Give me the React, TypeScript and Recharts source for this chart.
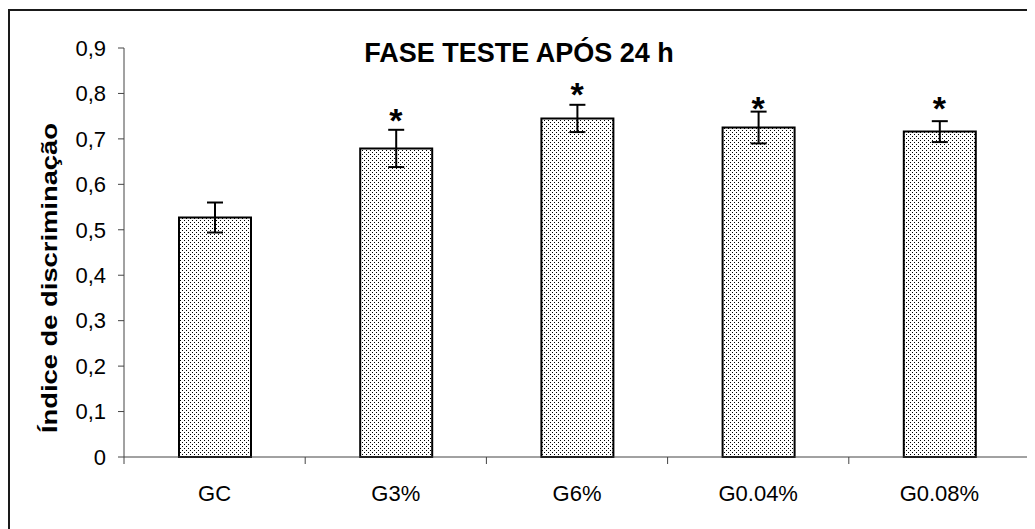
import React from "react";
import { ComposedChart, Bar, XAxis, YAxis, ErrorBar, Scatter } from "recharts";

const categories = ["GC", "G3%", "G6%", "G0.04%", "G0.08%"];
const means = [0.527, 0.679, 0.745, 0.725, 0.716];
const errors = [0.033, 0.041, 0.03, 0.035, 0.023];
const starLevels: (number | null)[] = [null, 0.757, 0.815, 0.783, 0.783];
const yTicks = [0, 0.1, 0.2, 0.3, 0.4, 0.5, 0.6, 0.7, 0.8, 0.9];
const titleText = "FASE TESTE APÓS 24 h";
const yLabelText = "Índice de discriminação";

const data = categories.map((name, i) => ({
  name,
  mean: means[i],
  err: errors[i],
  star: starLevels[i],
}));

const FONT = "'Liberation Sans', Arial, sans-serif";
const TICK_SIZE = 6;
const X_TICK_MARGIN = 22;

const XTick = (props: any) => {
  const { x, y, payload, index, visibleTicksCount, width } = props;
  const half =
    payload && typeof payload.offset === "number" && payload.offset > 0
      ? payload.offset
      : width / visibleTicksCount / 2;
  const axisY = y - TICK_SIZE - X_TICK_MARGIN;
  return (
    <g>
      <line x1={x - half} x2={x - half} y1={axisY} y2={axisY + 7} stroke="#444" strokeWidth={1} />
      {index === visibleTicksCount - 1 && (
        <line x1={x + half} x2={x + half} y1={axisY} y2={axisY + 7} stroke="#444" strokeWidth={1} />
      )}
      <text x={x} y={y} dy="0.71em" textAnchor="middle" fontSize={22} fontFamily={FONT} fill="#000">
        {payload.value}
      </text>
    </g>
  );
};

const StarShape = (props: any) => {
  const { cx, cy, payload } = props;
  if (payload == null || payload.star == null || !isFinite(cx) || !isFinite(cy)) return null;
  return (
    <text x={cx} y={cy + 19} textAnchor="middle" fontSize={34} fontWeight="bold" fontFamily={FONT} fill="#000">
      *
    </text>
  );
};

export default function App() {
  return (
    <div style={{ position: "relative", width: 1027, height: 521, overflow: "hidden", background: "#fff" }}>
      <div
        style={{
          position: "absolute",
          top: 1,
          left: 0,
          width: 1100,
          height: 600,
          borderTop: "2px solid #1a1a1a",
          borderLeft: "2px solid #1a1a1a",
          boxSizing: "border-box",
        }}
      />
      <div style={{ position: "absolute", top: 0, left: 0 }}>
        <ComposedChart
          width={1027}
          height={521}
          data={data}
          margin={{ top: 40, right: 5, bottom: 12, left: 0 }}
        >
          <defs>
            <pattern id="dots" patternUnits="userSpaceOnUse" width={4} height={4}>
              <rect x={0} y={0} width={4} height={4} fill="#fff" />
              <rect x={0} y={0} width={1} height={1} fill="#000" />
              <rect x={2} y={2} width={1} height={1} fill="#000" />
            </pattern>
          </defs>
          <XAxis
            dataKey="name"
            height={60}
            tickLine={false}
            tickSize={TICK_SIZE}
            tickMargin={X_TICK_MARGIN}
            axisLine={{ stroke: "#444", strokeWidth: 1 }}
            tick={<XTick />}
            interval={0}
          />
          <YAxis
            width={116}
            domain={[0, 0.9]}
            ticks={yTicks}
            interval={0}
            tickSize={TICK_SIZE}
            tickMargin={12}
            axisLine={{ stroke: "#444", strokeWidth: 1 }}
            tickLine={{ stroke: "#444", strokeWidth: 1 }}
            tick={{ fontSize: 22, fontFamily: FONT, fill: "#000" }}
            tickFormatter={(v: number) => (v === 0 ? "0" : v.toFixed(1).replace(".", ","))}
          />
          <Bar
            dataKey="mean"
            barSize={72}
            fill="url(#dots)"
            stroke="#000"
            strokeWidth={2}
            isAnimationActive={false}
          >
            <ErrorBar dataKey="err" width={8} stroke="#000" strokeWidth={2} isAnimationActive={false} />
          </Bar>
          <Scatter dataKey="star" shape={<StarShape />} isAnimationActive={false} />
          <text x={511} y={53.5} textAnchor="middle" fontSize={27} fontWeight="bold" fontFamily={FONT} fill="#000">
            {titleText}
          </text>
          <text
            x={0}
            y={0}
            transform="translate(49,270) rotate(-90)"
            textAnchor="middle"
            fontSize={22}
            fontWeight="bold"
            fontFamily={FONT}
            fill="#000"
            textLength={310}
            lengthAdjust="spacingAndGlyphs"
          >
            {yLabelText}
          </text>
        </ComposedChart>
      </div>
    </div>
  );
}
